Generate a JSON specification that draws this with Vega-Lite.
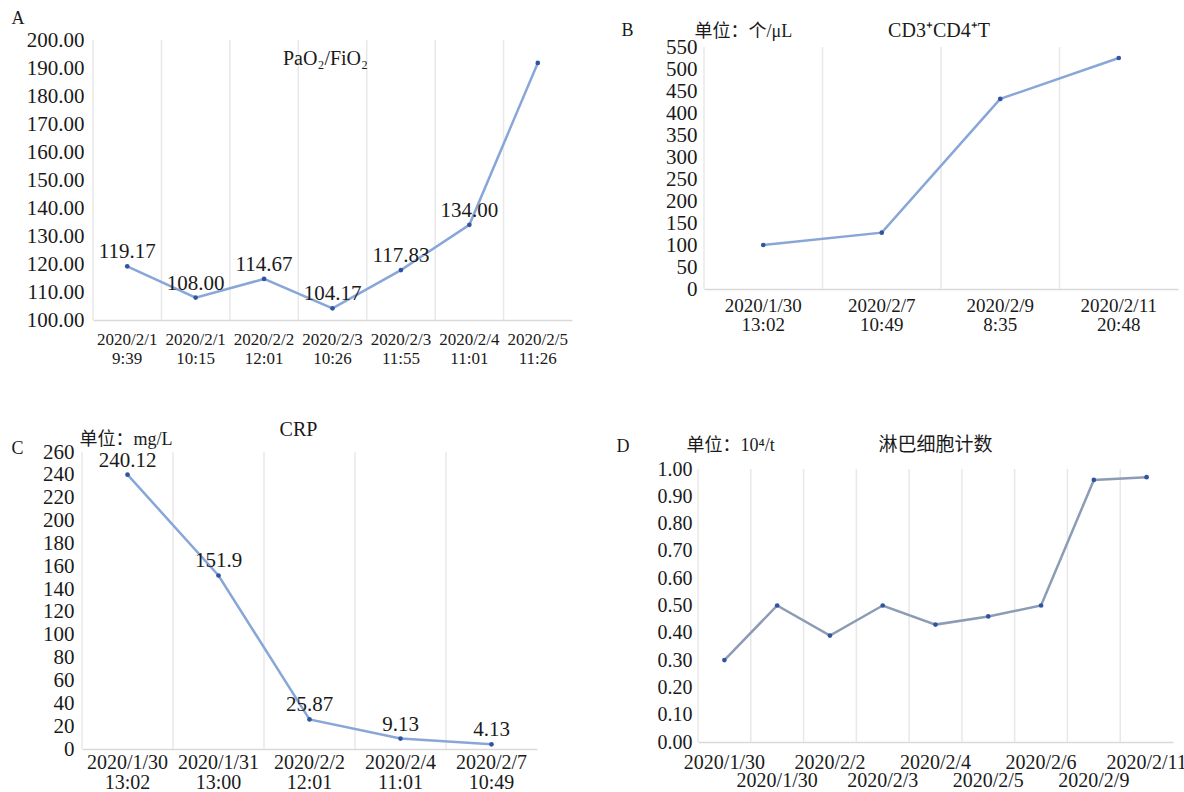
{
  "$schema": "https://vega.github.io/schema/vega-lite/v6.json",
  "background": "white",
  "padding": {"left": 11, "top": 9, "right": 0, "bottom": 0},
  "columns": 2,
  "spacing": {"column": 121, "row": 132},
  "bounds": "flush",
  "config": {
    "font": "Liberation Serif",
    "view": {"stroke": null},
    "axis": {
      "ticks": false, "grid": false, "domain": false,
      "labelColor": "#1a1a1a", "titleColor": "#1a1a1a",
      "labelFont": "Liberation Serif",
      "titleFont": "Liberation Serif",
      "titleFontWeight": "normal", "labelOverlap": false, "labelFlush": false
    },
    "title": {"font": "Liberation Serif", "fontWeight": "normal", "color": "#1a1a1a", "fontSize": 20, "frame": "group", "anchor": "middle", "baseline": "middle", "offset": 0},
    "text": {"font": "Liberation Serif", "fontSize": 21, "color": "#1a1a1a"}
  },
  "concat": [
    {
      "width": 495, "height": 280,
      "title": {"text": "PaO₂/FiO₂", "dx": -4, "dy": 64},
      "data": {"values": [
        {"time": "2020/2/1 9:39", "value": 119.17, "label": "119.17"},
        {"time": "2020/2/1 10:15", "value": 108.00, "label": "108.00"},
        {"time": "2020/2/2 12:01", "value": 114.67, "label": "114.67"},
        {"time": "2020/2/3 10:26", "value": 104.17, "label": "104.17"},
        {"time": "2020/2/3 11:55", "value": 117.83, "label": "117.83"},
        {"time": "2020/2/4 11:01", "value": 134.00, "label": "134.00"},
        {"time": "2020/2/5 11:26", "value": 191.8}
      ]},
      "encoding": {
        "x": {"field": "time", "type": "ordinal", "sort": null,
          "scale": {"type": "band", "range": [11, 490], "paddingInner": 0, "paddingOuter": 0},
          "axis": {"labelExpr": "split(datum.label, ' ')", "labelAngle": 0, "labelFontSize": 17, "labelLineHeight": 19, "labelPadding": 11,
            "domain": true, "domainColor": "#d9d9d9", "domainWidth": 1.5,
            "title": "A", "titleX": -71, "titleY": -302, "titleAngle": 0, "titleAlign": "left", "titleBaseline": "middle", "titleFontSize": 18}},
        "y": {"field": "value", "type": "quantitative",
          "scale": {"domain": [100, 200], "nice": false, "zero": false},
          "axis": {"values": [100, 110, 120, 130, 140, 150, 160, 170, 180, 190, 200], "format": ".2f", "labelFontSize": 21, "labelPadding": 9, "offset": -11, "title": null}}
      },
      "layer": [
        {"mark": {"type": "rule", "color": "#e8e8e8", "strokeWidth": 1.5},
         "encoding": {"x": {"field": "time", "type": "ordinal", "sort": null, "bandPosition": 0}, "y": {"datum": 200}, "y2": {"datum": 100}}},
        {"mark": {"type": "line", "color": "#88a6d8", "strokeWidth": 2.5}},
        {"mark": {"type": "point", "filled": true, "size": 22, "color": "#2f55a0", "opacity": 1}},
        {"transform": [{"filter": "isValid(datum.label)"}],
         "mark": {"type": "text", "dy": -14, "align": "center", "baseline": "middle"},
         "encoding": {"text": {"field": "label"}}}
      ]
    },
    {
      "width": 480, "height": 249,
      "title": {"text": "CD3⁺CD4⁺T", "dx": 1, "dy": 24},
      "data": {"values": [
        {"time": "2020/1/30 13:02", "value": 100},
        {"time": "2020/2/7 10:49", "value": 128},
        {"time": "2020/2/9 8:35", "value": 432},
        {"time": "2020/2/11 20:48", "value": 525}
      ]},
      "encoding": {
        "x": {"field": "time", "type": "ordinal", "sort": null,
          "scale": {"type": "band", "range": [6, 480], "paddingInner": 0, "paddingOuter": 0},
          "axis": {"labelExpr": "split(datum.label, ' ')", "labelAngle": 0, "labelFontSize": 19, "labelLineHeight": 19, "labelPadding": 7,
            "domain": true, "domainColor": "#d9d9d9", "domainWidth": 1.5,
            "title": "B", "titleX": -77, "titleY": -259, "titleAngle": 0, "titleAlign": "left", "titleBaseline": "middle", "titleFontSize": 18}},
        "y": {"field": "value", "type": "quantitative",
          "scale": {"domain": [0, 550], "range": [249, 7], "nice": false},
          "axis": {"values": [0, 50, 100, 150, 200, 250, 300, 350, 400, 450, 500, 550], "format": "d", "labelFontSize": 21, "labelPadding": 7, "offset": -6,
            "title": "单位：个/μL", "titleFont": "Liberation Serif, Noto Sans CJK SC", "titleX": -10, "titleY": -9, "titleAngle": 0, "titleAlign": "left", "titleBaseline": "middle", "titleFontSize": 18}}
      },
      "layer": [
        {"mark": {"type": "rule", "color": "#e8e8e8", "strokeWidth": 1.5},
         "encoding": {"x": {"field": "time", "type": "ordinal", "sort": null, "bandPosition": 0}, "y": {"datum": 550}, "y2": {"datum": 0}}},
        {"mark": {"type": "line", "color": "#88a6d8", "strokeWidth": 2.5}},
        {"mark": {"type": "point", "filled": true, "size": 22, "color": "#2f55a0", "opacity": 1}}
      ]
    },
    {
      "width": 455, "height": 297,
      "title": {"text": "CRP", "dx": -11, "dy": 14},
      "data": {"values": [
        {"time": "2020/1/30 13:02", "value": 240.12, "label": "240.12"},
        {"time": "2020/1/31 13:00", "value": 151.9, "label": "151.9"},
        {"time": "2020/2/2 12:01", "value": 25.87, "label": "25.87"},
        {"time": "2020/2/4 11:01", "value": 9.13, "label": "9.13"},
        {"time": "2020/2/7 10:49", "value": 4.13, "label": "4.13"}
      ]},
      "encoding": {
        "x": {"field": "time", "type": "ordinal", "sort": null,
          "scale": {"type": "band", "paddingInner": 0, "paddingOuter": 0},
          "axis": {"labelExpr": "split(datum.label, ' ')", "labelAngle": 0, "labelFontSize": 20, "labelLineHeight": 20, "labelPadding": 3,
            "domain": true, "domainColor": "#d9d9d9", "domainWidth": 1.5,
            "title": "C", "titleX": -71, "titleY": -301, "titleAngle": 0, "titleAlign": "left", "titleBaseline": "middle", "titleFontSize": 18}},
        "y": {"field": "value", "type": "quantitative",
          "scale": {"domain": [0, 260], "nice": false},
          "axis": {"values": [0, 20, 40, 60, 80, 100, 120, 140, 160, 180, 200, 220, 240, 260], "format": "d", "labelFontSize": 21, "labelPadding": 8,
            "title": "单位：mg/L", "titleFont": "Liberation Serif, Noto Sans CJK SC", "titleX": -3, "titleY": -13, "titleAngle": 0, "titleAlign": "left", "titleBaseline": "middle", "titleFontSize": 18}}
      },
      "layer": [
        {"mark": {"type": "rule", "color": "#e8e8e8", "strokeWidth": 1.5},
         "encoding": {"x": {"field": "time", "type": "ordinal", "sort": null, "bandPosition": 0}, "y": {"datum": 260}, "y2": {"datum": 0}}},
        {"mark": {"type": "line", "color": "#88a6d8", "strokeWidth": 2.5}},
        {"mark": {"type": "point", "filled": true, "size": 22, "color": "#2f55a0", "opacity": 1}},
        {"mark": {"type": "text", "dy": -14, "align": "center", "baseline": "middle"},
         "encoding": {"text": {"field": "label"}}}
      ]
    },
    {
      "width": 475, "height": 290,
      "title": {"text": "淋巴细胞计数", "font": "Liberation Serif, Noto Sans CJK SC", "fontSize": 19, "dx": 0, "dy": 23},
      "data": {"values": [
        {"seq": 1, "date": "2020/1/30", "value": 0.30},
        {"seq": 2, "date": "2020/1/30", "value": 0.50},
        {"seq": 3, "date": "2020/2/2", "value": 0.39},
        {"seq": 4, "date": "2020/2/3", "value": 0.50},
        {"seq": 5, "date": "2020/2/4", "value": 0.43},
        {"seq": 6, "date": "2020/2/5", "value": 0.46},
        {"seq": 7, "date": "2020/2/6", "value": 0.50},
        {"seq": 8, "date": "2020/2/9", "value": 0.96},
        {"seq": 9, "date": "2020/2/11", "value": 0.97}
      ]},
      "encoding": {
        "x": {"field": "seq", "type": "ordinal", "sort": null,
          "scale": {"type": "band", "paddingInner": 0, "paddingOuter": 0},
          "axis": {"labels": false, "domain": true, "domainColor": "#d9d9d9", "domainWidth": 1.5,
            "title": "D", "titleX": -82, "titleY": -296, "titleAngle": 0, "titleAlign": "left", "titleBaseline": "middle", "titleFontSize": 18}},
        "y": {"field": "value", "type": "quantitative",
          "scale": {"domain": [0, 1], "range": [290, 17], "nice": false},
          "axis": {"values": [0, 0.1, 0.2, 0.3, 0.4, 0.5, 0.6, 0.7, 0.8, 0.9, 1.0], "format": ".2f", "labelFontSize": 20, "labelPadding": 6,
            "title": "单位：10⁴/t", "titleFont": "Liberation Serif, Noto Sans CJK SC", "titleX": -12, "titleY": -7, "titleAngle": 0, "titleAlign": "left", "titleBaseline": "middle", "titleFontSize": 18}}
      },
      "layer": [
        {"mark": {"type": "rule", "color": "#e8e8e8", "strokeWidth": 1.5},
         "encoding": {"x": {"field": "seq", "type": "ordinal", "sort": null, "bandPosition": 0}, "y": {"datum": 1.0}, "y2": {"datum": 0}}},
        {"mark": {"type": "line", "color": "#8b9cb4", "strokeWidth": 2.5}},
        {"mark": {"type": "point", "filled": true, "size": 22, "color": "#2f55a0", "opacity": 1}},
        {"transform": [{"filter": "datum.seq % 2 == 1"}],
         "mark": {"type": "text", "fontSize": 20, "dy": 21, "align": "center", "baseline": "middle"},
         "encoding": {"y": {"datum": 0}, "text": {"field": "date"}}},
        {"transform": [{"filter": "datum.seq % 2 == 0"}],
         "mark": {"type": "text", "fontSize": 20, "dy": 39, "align": "center", "baseline": "middle"},
         "encoding": {"y": {"datum": 0}, "text": {"field": "date"}}}
      ]
    }
  ]
}
